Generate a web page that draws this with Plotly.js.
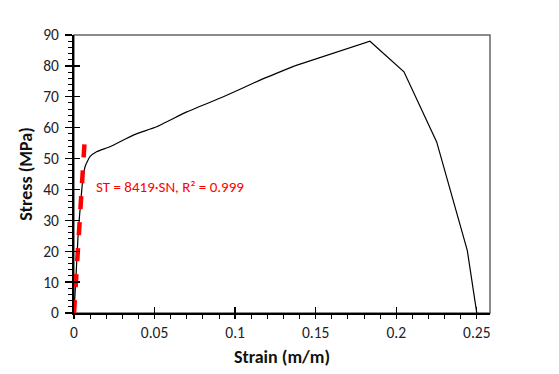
<!DOCTYPE html>
<html><head><meta charset="utf-8">
<script src="https://cdn.plot.ly/plotly-3.0.1.min.js"></script>
<style>html,body{margin:0;padding:0;background:#fff}#c{width:559px;height:374px}</style>
</head><body><div id="c"></div>
<script>
// Measured stress-strain curve
const strain = [0, 0.0014, 0.0027, 0.0041, 0.0054, 0.0063, 0.0070, 0.0085, 0.0099, 0.0140, 0.0223, 0.0368, 0.0513, 0.0700, 0.0927, 0.1155, 0.1370, 0.1837, 0.2048, 0.2251, 0.2441, 0.2500];
const stress = [0, 13.5, 26.8, 35.5, 43.0, 46.0, 47.6, 49.3, 50.6, 52.2, 53.8, 57.6, 60.3, 65.1, 70.0, 75.4, 80.0, 88.0, 78.1, 55.4, 20.3, 0];
// Linear fit line (trendline endpoints)
const fitStrain = [0, 0.0066];
const fitStress = [0, 55.6];
const fitLabel = "ST = 8419·SN, R² = 0.999";
const xTicks = [0, 0.05, 0.1, 0.15, 0.2, 0.25];
const xTickText = ["0", "0.05", "0.1", "0.15", "0.2", "0.25"];
const yTicks = [0, 10, 20, 30, 40, 50, 60, 70, 80, 90];

const FONT = "Carlito, Lato, 'Open Sans', sans-serif";
const split = 16; // smooth hardening part, straight segments afterwards
const traces = [
  {x: strain.slice(0, split + 1), y: stress.slice(0, split + 1), type: 'scatter', mode: 'lines', line: {color: '#000', width: 1.2, shape: 'spline', smoothing: 0.4}, hoverinfo: 'skip'},
  {x: strain.slice(split), y: stress.slice(split), type: 'scatter', mode: 'lines', line: {color: '#000', width: 1.2}, hoverinfo: 'skip'},
  {x: fitStrain, y: fitStress, type: 'scatter', mode: 'lines', line: {color: '#ff0000', width: 4.5, dash: '13px,13px'}, hoverinfo: 'skip'}
];
const xr = [0, 0.2582], yr = [0, 90];
const layout = {
  width: 559, height: 374,
  margin: {l: 74, r: 69, t: 35, b: 61},
  paper_bgcolor: '#fff', plot_bgcolor: '#fff',
  showlegend: false,
  font: {family: FONT, size: 15, color: '#222'},
  xaxis: {
    range: xr, tickvals: xTicks, ticktext: xTickText, showgrid: false, zeroline: false,
    showline: true, linecolor: '#000', linewidth: 2,
    ticks: 'outside', ticklen: 4, tickwidth: 1.3, tickcolor: '#000',
    minor: {dtick: 0.01, tick0: 0, ticks: 'outside', ticklen: 4, tickwidth: 1, tickcolor: '#000', showgrid: false},
    tickfont: {family: FONT, size: 15.5, color: '#222'},
    title: {text: '<b>Strain (m/m)</b>', font: {family: FONT, size: 18, color: '#111'}, standoff: 10}
  },
  yaxis: {
    range: yr, tickvals: yTicks, showgrid: false, zeroline: false,
    showline: true, linecolor: '#000', linewidth: 2,
    ticks: 'outside', ticklen: 7, tickwidth: 1.3, tickcolor: '#000', ticklabelstandoff: 3,
    minor: {dtick: 2, tick0: 0, ticks: 'outside', ticklen: 4, tickwidth: 1, tickcolor: '#000', showgrid: false},
    tickfont: {family: FONT, size: 15.5, color: '#222'},
    title: {text: '<b>Stress (MPa)</b>', font: {family: FONT, size: 18, color: '#111'}, standoff: 6}
  },
  xaxis2: {overlaying: 'x', matches: 'x', range: xr, tickvals: xTicks, showticklabels: false, showgrid: false, zeroline: false,
    ticks: 'inside', ticklen: 6, tickwidth: 1.3, tickcolor: '#000', anchor: 'y'},
  yaxis2: {overlaying: 'y', matches: 'y', range: yr, tickvals: yTicks, showticklabels: false, showgrid: false, zeroline: false,
    ticks: 'inside', ticklen: 6, tickwidth: 1.3, tickcolor: '#000', anchor: 'x'},
  shapes: [{type: 'rect', xref: 'paper', yref: 'paper', x0: 0, x1: 1, y0: 0, y1: 1, line: {color: '#666', width: 1.5}, layer: 'below'}],
  annotations: [{xref: 'x', yref: 'y', x: 0.0125, y: 40.8, xanchor: 'left', yanchor: 'middle', text: fitLabel, showarrow: false,
    font: {family: FONT, size: 15, color: '#ff0000'}}]
};
// dummy trace to activate secondary axes for inside ticks
traces.push({x: [null], y: [null], xaxis: 'x2', yaxis: 'y2', type: 'scatter', mode: 'lines', hoverinfo: 'skip'});
Plotly.newPlot('c', traces, layout, {staticPlot: true});
</script></body></html>
